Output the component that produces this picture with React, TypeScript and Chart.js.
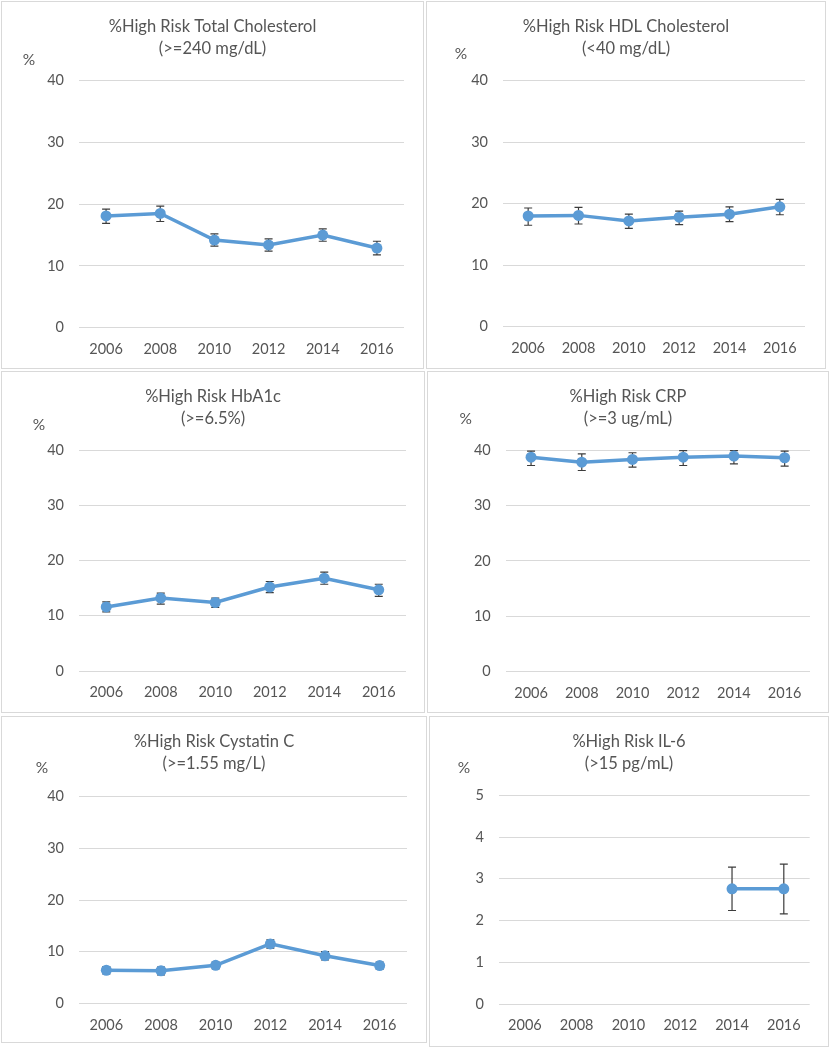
import React, { useEffect, useRef } from "react";
import { Chart, registerables } from "chart.js";
Chart.register(...registerables);

// ---------- data ----------
const years = ["2006", "2008", "2010", "2012", "2014", "2016"];

const totalCholValues = [18.1, 18.5, 14.2, 13.4, 15.0, 12.9];
const totalCholLow = [16.9, 17.2, 13.2, 12.4, 14.0, 11.8];
const totalCholHigh = [19.2, 19.7, 15.2, 14.4, 16.0, 14.0];

const hdlValues = [18.0, 18.1, 17.2, 17.8, 18.3, 19.5];
const hdlLow = [16.5, 16.7, 16.0, 16.6, 17.1, 18.2];
const hdlHigh = [19.3, 19.4, 18.3, 18.8, 19.5, 20.7];

const hba1cValues = [11.6, 13.2, 12.4, 15.2, 16.8, 14.7];
const hba1cLow = [10.7, 12.1, 11.5, 14.2, 15.7, 13.5];
const hba1cHigh = [12.5, 14.1, 13.2, 16.2, 17.9, 15.7];

const crpValues = [38.7, 37.8, 38.3, 38.7, 38.9, 38.6];
const crpLow = [37.2, 36.3, 36.9, 37.2, 37.5, 37.1];
const crpHigh = [39.8, 39.3, 39.5, 39.9, 39.9, 39.8];

const cystatinValues = [6.4, 6.3, 7.35, 11.5, 9.2, 7.3];
const cystatinLow = [5.7, 5.5, 6.7, 10.7, 8.4, 6.6];
const cystatinHigh = [7.1, 7.0, 8.0, 12.3, 10.0, 8.0];

const il6Values = [null, null, null, null, 2.76, 2.76];
const il6Low = [null, null, null, null, 2.24, 2.16];
const il6High = [null, null, null, null, 3.28, 3.35];

const titles = [
  ["%High Risk Total Cholesterol", "(>=240 mg/dL)"],
  ["%High Risk HDL Cholesterol", "(<40 mg/dL)"],
  ["%High Risk HbA1c", "(>=6.5%)"],
  ["%High Risk CRP", "(>=3 ug/mL)"],
  ["%High Risk Cystatin C", "(>=1.55 mg/L)"],
  ["%High Risk IL-6", "(>15 pg/mL)"],
];

const yMaxes = [40, 40, 40, 40, 40, 5];
const ySteps = [10, 10, 10, 10, 10, 1];

// ---------- layout (positions / styles) ----------
const panels = [
  { left: 1, top: 1, w: 421, h: 366, aL: 77, aT: 78.7, aR: 402, aB: 325.7, px: 27, py: 58 },
  { left: 426, top: 1, w: 398, h: 366, aL: 76, aT: 78.7, aR: 378, aB: 324.7, px: 34, py: 52 },
  { left: 1, top: 371, w: 422, h: 340, aL: 77, aT: 78, aR: 404, aB: 299, px: 37, py: 53 },
  { left: 427, top: 371, w: 400, h: 340, aL: 77.7, aT: 78, aR: 382, aB: 299.7, px: 37.7, py: 47 },
  { left: 1, top: 716, w: 424, h: 325, aL: 77, aT: 79.7, aR: 405, aB: 286.3, px: 40, py: 51 },
  { left: 429, top: 716, w: 398, h: 329, aL: 69, aT: 78.3, aR: 379.7, aB: 287, px: 34, py: 51 },
];

const series = [
  [totalCholValues, totalCholLow, totalCholHigh],
  [hdlValues, hdlLow, hdlHigh],
  [hba1cValues, hba1cLow, hba1cHigh],
  [crpValues, crpLow, crpHigh],
  [cystatinValues, cystatinLow, cystatinHigh],
  [il6Values, il6Low, il6High],
];

const FONT = "Lato, 'Open Sans', sans-serif";
const TEXT = "#555555";
const BLUE = "#5b9bd5";

function Panel({ idx }: { idx: number }) {
  const ref = useRef<HTMLCanvasElement | null>(null);
  const p = panels[idx];
  useEffect(() => {
    const canvas = ref.current!;
    const [vals, lows, highs] = series[idx];
    const title = titles[idx];

    const errorBars = {
      id: "errorBars",
      beforeDatasetsDraw(chart: any) {
        const ctx = chart.ctx;
        const meta = chart.getDatasetMeta(0);
        const ys = chart.scales.y;
        ctx.save();
        ctx.strokeStyle = "#3c3c3c";
        ctx.lineWidth = 1.2;
        meta.data.forEach((pt: any, i: number) => {
          const lo = lows[i];
          const hi = highs[i];
          if (lo == null || hi == null) return;
          const x = pt.x;
          const y1 = ys.getPixelForValue(hi);
          const y2 = ys.getPixelForValue(lo);
          ctx.beginPath();
          ctx.moveTo(x, y1);
          ctx.lineTo(x, y2);
          ctx.moveTo(x - 4, y1);
          ctx.lineTo(x + 4, y1);
          ctx.moveTo(x - 4, y2);
          ctx.lineTo(x + 4, y2);
          ctx.stroke();
        });
        ctx.restore();
      },
    };

    const texts = {
      id: "texts",
      afterDraw(chart: any) {
        const ctx = chart.ctx;
        ctx.save();
        ctx.fillStyle = TEXT;
        ctx.textAlign = "center";
        ctx.textBaseline = "middle";
        ctx.font = `16.5px ${FONT}`;
        ctx.fillText(title[0], p.w / 2, 25);
        ctx.fillText(title[1], p.w / 2, 47);
        ctx.font = `15.5px ${FONT}`;
        ctx.fillText("%", p.px, p.py);
        ctx.restore();
      },
    };

    const chart = new Chart(canvas, {
      type: "line",
      data: {
        labels: years,
        datasets: [
          {
            data: vals as any,
            borderColor: BLUE,
            backgroundColor: BLUE,
            borderWidth: 3.5,
            pointRadius: 5.5,
            pointBorderWidth: 0,
            pointBackgroundColor: BLUE,
            tension: 0,
            spanGaps: false,
          },
        ],
      },
      options: {
        animation: false,
        responsive: false,
        devicePixelRatio: 1,
        layout: { padding: { top: p.aT, right: p.w - p.aR, left: 0, bottom: 0 } },
        plugins: { legend: { display: false }, tooltip: { enabled: false }, title: { display: false } },
        scales: {
          x: {
            offset: true,
            grid: { display: false, drawTicks: false },
            border: { display: false },
            ticks: { color: TEXT, font: { family: FONT, size: 14.5 }, padding: 13, maxRotation: 0 },
            afterFit: (s: any) => {
              s.height = p.h - p.aB;
            },
          },
          y: {
            min: 0,
            max: yMaxes[idx],
            grid: { color: "#d9d9d9", lineWidth: 1, drawTicks: false },
            border: { display: false },
            ticks: { stepSize: ySteps[idx], color: TEXT, font: { family: FONT, size: 14.5 }, padding: 15 },
            afterFit: (s: any) => {
              s.width = p.aL;
            },
          },
        },
      },
      plugins: [errorBars, texts],
    });
    return () => chart.destroy();
  }, [idx]);

  return (
    <div
      style={{
        position: "absolute",
        left: p.left,
        top: p.top,
        width: p.w,
        height: p.h,
        border: "1px solid #d9d9d9",
        background: "#fff",
      }}
    >
      <canvas ref={ref} width={p.w} height={p.h} style={{ display: "block", width: p.w, height: p.h }} />
    </div>
  );
}

export default function App() {
  return (
    <div style={{ position: "absolute", left: 0, top: 0, width: 834, height: 1050, background: "#fff" }}>
      {panels.map((_, i) => (
        <Panel key={i} idx={i} />
      ))}
    </div>
  );
}
